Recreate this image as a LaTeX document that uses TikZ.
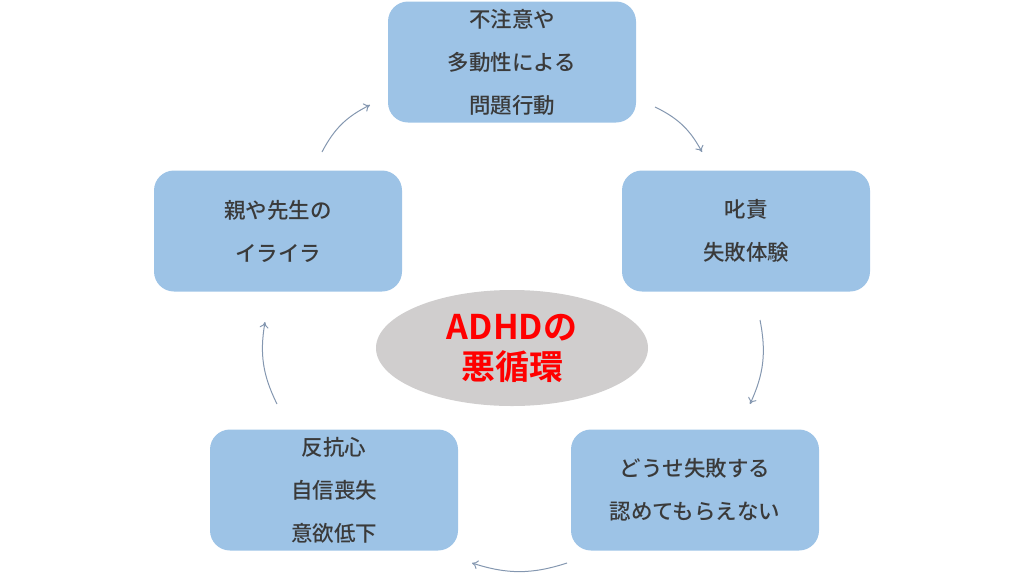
\documentclass[tikz,border=0pt]{standalone}
\usepackage{fontspec}
\newfontfamily\jpfont[UprightFont=* Medium, BoldFont=* Bold]{Noto Sans CJK JP}
\usetikzlibrary{arrows.meta, shapes.geometric}
\definecolor{boxblue}{HTML}{9DC3E6}
\definecolor{textgray}{HTML}{3A3A3A}
\definecolor{ovalgray}{HTML}{D0CECE}
\definecolor{arrowgray}{HTML}{8497B0}
\tikzset{
    stage/.style={fill=boxblue, rounded corners=20, minimum width=248, minimum height=121,
        align=center, text=textgray, font=\jpfont\fontsize{21.5}{43}\selectfont},
    cyclearrow/.style={draw=arrowgray, line width=1, -{To[length=6, width=9]}, bend left=18}
}
\begin{document}
\begin{tikzpicture}[x=1pt, y=-1pt]
    \useasboundingbox (0,0) rectangle (1024,576);
    % stages of the cycle
    \node [stage] (problem)    at (512,62)  {不注意や\\多動性による\\問題行動};
    \node [stage] (scold)      at (746,231) {叱責\\失敗体験};
    \node [stage] (giveup)     at (695,490) {どうせ失敗する\\認めてもらえない};
    \node [stage] (defiance)   at (334,490) {反抗心\\自信喪失\\意欲低下};
    \node [stage] (irritation) at (278,231) {親や先生の\\イライラ};
    % centre
    \node [ellipse, fill=ovalgray, minimum width=272, minimum height=116, align=center,
        text=red, font=\jpfont\bfseries\fontsize{34}{40}\selectfont] (cycle) at (512,348) {ADHDの\\悪循環};
    % arrow ends
    \coordinate (a1) at (322,152); \coordinate (b1) at (370,105);
    \coordinate (a2) at (655,107); \coordinate (b2) at (702,152);
    \coordinate (a3) at (760,320); \coordinate (b3) at (750,404);
    \coordinate (a4) at (567,563); \coordinate (b4) at (472,563);
    \coordinate (a5) at (277,404); \coordinate (b5) at (265,322);
    \foreach \i in {1,...,5} {
        \draw [cyclearrow] (a\i) to (b\i);
    }
\end{tikzpicture}
\end{document}
